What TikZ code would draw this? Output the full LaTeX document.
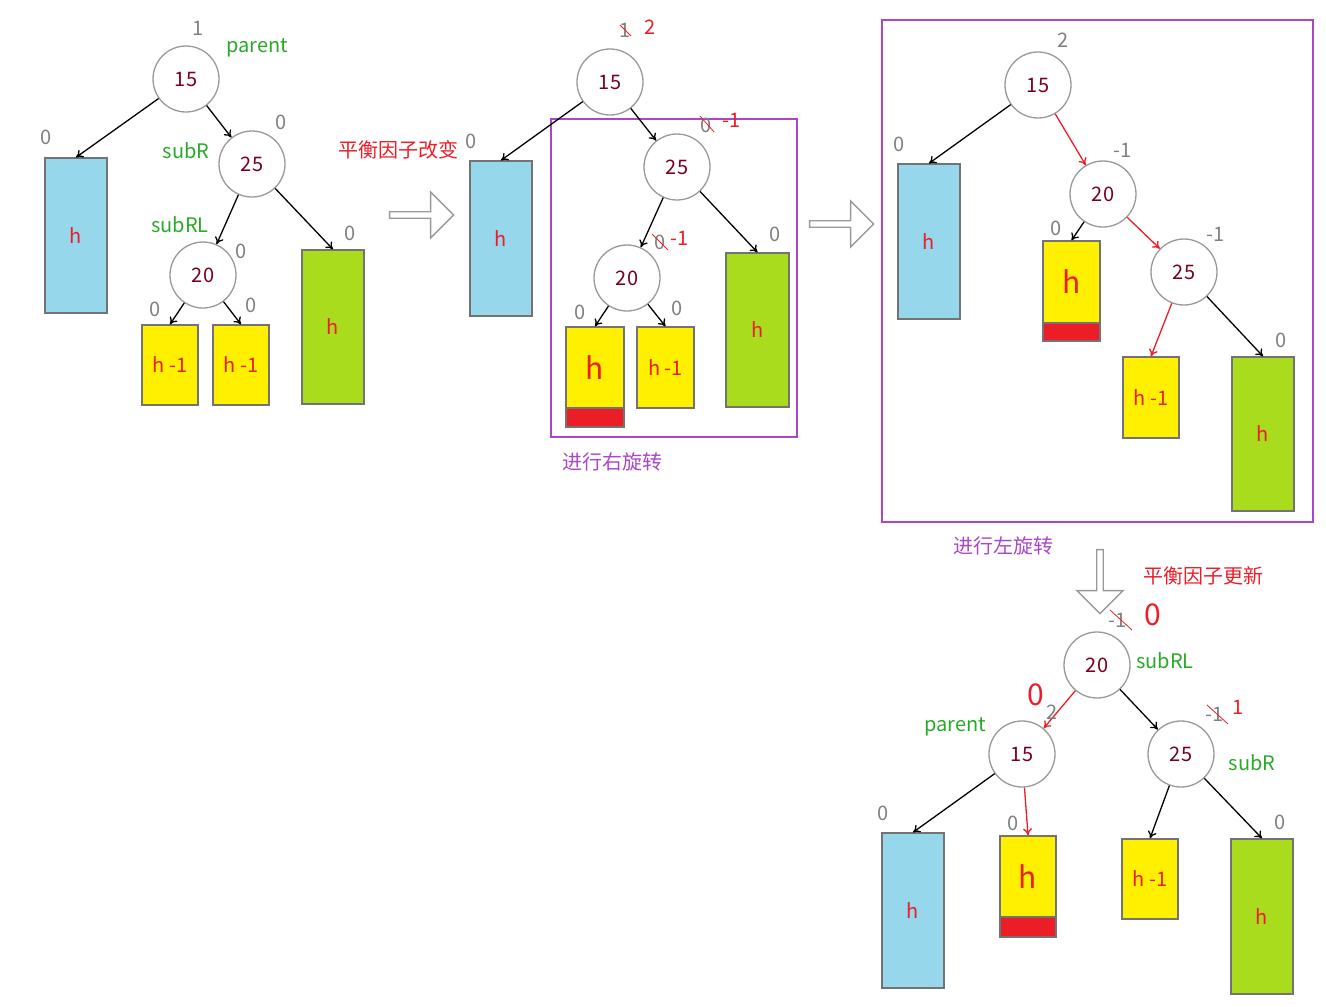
\documentclass[tikz,border=0pt]{standalone}
\usepackage{fontspec}
\setmainfont{Noto Sans CJK SC}
\usetikzlibrary{arrows.meta,shapes.arrows}
\definecolor{nodeT}{RGB}{120,0,30}
\definecolor{gr}{RGB}{40,170,40}
\definecolor{pur}{RGB}{170,70,200}
\definecolor{bl}{RGB}{150,215,235}
\definecolor{ye}{RGB}{255,240,0}
\definecolor{lg}{RGB}{170,220,30}
\definecolor{rd}{RGB}{235,30,40}
\tikzset{
 x=1pt,y=-1pt,
 nd/.style={circle,draw=gray!80,line width=1.3pt,fill=white,minimum size=66pt,inner sep=0,text=nodeT,font=\fontsize{20}{20}\selectfont},
 rect/.style={draw=gray!90!black,line width=1.3pt,inner sep=0,text=rd,font=\fontsize{20}{20}\selectfont},
 ar/.style={-{To[length=7pt,width=9pt]},line width=1.3pt,black},
 ra/.style={-{To[length=7pt,width=9pt]},line width=1.3pt,rd},
 zs/.style={text=gray,font=\fontsize{20}{20}\selectfont},
 gs/.style={text=gr,font=\fontsize{20}{20}\selectfont},
 rs/.style={text=rd,font=\fontsize{20}{20}\selectfont},
 ps/.style={text=pur,font=\fontsize{20}{20}\selectfont},
 hol/.style={single arrow,draw=gray!80,line width=1.3pt,fill=white,minimum height=64pt,minimum width=46pt,single arrow head extend=4pt,inner sep=0},
 hw/.style={text=rd,font=\fontsize{30}{30}\selectfont},
}
\newcommand{\rbox}[6]{\node[rect,fill=#5,minimum width=#3-#1,minimum height=#4-#2] (#6) at ({(#1+#3)/2},{(#2+#4)/2}) {};}
\begin{document}
\begin{tikzpicture}
\useasboundingbox (0,0) rectangle (1326,1007);
% ---- tree 1
\rbox{45}{158}{107}{313}{bl}{a1}\node[rs] at (a1) {h};
\rbox{302}{250}{364}{404}{lg}{b1}\node[rs] at (b1) {h};
\rbox{142}{325}{198}{405}{ye}{c1}\node[rs] at (c1) {h -1};
\rbox{213}{325}{269}{405}{ye}{d1}\node[rs] at (d1) {h -1};
\node[nd] (p1) at (186,79) {15};
\node[nd] (s1) at (252,164) {25};
\node[nd] (l1) at (203,275) {20};
\draw[ar] (p1) -- (a1.north);
\draw[ar] (p1) -- (s1);
\draw[ar] (s1) -- (l1);
\draw[ar] (s1) -- (b1.north);
\draw[ar] (l1) -- (c1.north);
\draw[ar] (l1) -- (d1.north);
\node[zs] at (198,28) {1}; \node[gs] at (257,48) {parent};
\node[zs] at (46,137) {0}; \node[gs] at (186,151) {subR}; \node[zs] at (281,122) {0};
\node[gs] at (180,225) {subRL}; \node[zs] at (241,251) {0}; \node[zs] at (350,233) {0};
\node[zs] at (155,309) {0}; \node[zs] at (251,305) {0};
\node[rs] at (398,150) {平衡因子改变}; \node[zs] at (471,141) {0};
\node[hol] at (420,215) {};
% ---- tree 2
\draw[pur,line width=1.3pt] (551,119) rectangle (797,437);
\rbox{470}{161}{532}{316}{bl}{a2}\node[rs] at (a2) {h};
\rbox{726}{253}{789}{407}{lg}{b2}\node[rs] at (b2) {h};
\rbox{566}{408}{624}{427}{rd}{e2}
\rbox{566}{327}{624}{408}{ye}{c2}\node[hw] at (c2) {h};
\rbox{637}{327}{694}{408}{ye}{d2}\node[rs] at (d2) {h -1};
\node[nd] (p2) at (610,82) {15};
\node[nd] (s2) at (677,167) {25};
\node[nd] (l2) at (627,278) {20};
\draw[ar] (p2) -- (a2.north);
\draw[ar] (p2) -- (s2);
\draw[ar] (s2) -- (l2);
\draw[ar] (s2) -- (b2.north);
\draw[ar] (l2) -- (c2.north);
\draw[ar] (l2) -- (d2.north);
\node[zs] at (625,30) {1}; \draw[rd,thick] (620,25) -- (631,36); \node[rs] at (650,27) {2};
\node[zs] at (706,125) {0}; \draw[rd,thick] (700,116) -- (714,132); \node[rs] at (732,120) {-1};
\node[zs] at (660,242) {0}; \draw[rd,thick] (652,234) -- (668,250); \node[rs] at (680,238) {-1};
\node[zs] at (775,234) {0}; \node[zs] at (580,312) {0}; \node[zs] at (677,308) {0};
\node[ps] at (612,462) {进行右旋转};
\node[hol] at (840,224) {};
% ---- tree 3
\draw[pur,line width=1.3pt] (882,20) rectangle (1313,522);
\rbox{898}{164}{960}{319}{bl}{a3}\node[rs] at (a3) {h};
\rbox{1043}{323}{1100}{341}{rd}{e3}
\rbox{1043}{241}{1100}{323}{ye}{c3}\node[hw] at (c3) {h};
\rbox{1123}{357}{1179}{438}{ye}{d3}\node[rs] at (d3) {h -1};
\rbox{1232}{357}{1294}{511}{lg}{b3}\node[rs] at (b3) {h};
\node[nd] (p3) at (1038,85) {15};
\node[nd] (l3) at (1103,194) {20};
\node[nd] (s3) at (1184,272) {25};
\draw[ar] (p3) -- (a3.north);
\draw[ra] (p3) -- (l3);
\draw[ar] (l3) -- (c3.north);
\draw[ra] (l3) -- (s3);
\draw[ra] (s3) -- (d3.north);
\draw[ar] (s3) -- (b3.north);
\node[zs] at (1063,40) {2}; \node[zs] at (899,144) {0}; \node[zs] at (1123,150) {-1};
\node[zs] at (1056,228) {0}; \node[zs] at (1216,234) {-1}; \node[zs] at (1281,340) {0};
\node[ps] at (1003,546) {进行左旋转};
\node[hol,rotate=-90] at (1100,580) {};
\node[rs] at (1203,576) {平衡因子更新};
% ---- tree 4
\rbox{882}{833}{944}{988}{bl}{a4}\node[rs] at (a4) {h};
\rbox{1000}{917}{1056}{937}{rd}{e4}
\rbox{1000}{836}{1056}{917}{ye}{c4}\node[hw] at (c4) {h};
\rbox{1122}{839}{1178}{919}{ye}{d4}\node[rs] at (d4) {h -1};
\rbox{1231}{839}{1293}{994}{lg}{b4}\node[rs] at (b4) {h};
\node[nd] (l4) at (1097,665) {20};
\node[nd] (p4) at (1022,754) {15};
\node[nd] (s4) at (1181,754) {25};
\draw[ra] (l4) -- (p4);
\draw[ar] (l4) -- (s4);
\draw[ar] (p4) -- (a4.north);
\draw[ra] (p4) -- (c4.north);
\draw[ar] (s4) -- (d4.north);
\draw[ar] (s4) -- (b4.north);
\node[zs] at (1118,620) {-1}; \draw[rd,thick] (1110,610) -- (1132,630); \node[hw] at (1153,615) {0};
\node[gs] at (1165,661) {subRL};
\node[gs] at (955,727) {parent}; \node[zs] at (1052,712) {2}; \node[hw] at (1036,695) {0};
\node[gs] at (1252,763) {subR};
\node[zs] at (1215,714) {-1}; \draw[rd,thick] (1207,705) -- (1228,724); \node[rs] at (1238,707) {1};
\node[zs] at (883,813) {0}; \node[zs] at (1013,823) {0}; \node[zs] at (1280,822) {0};
\end{tikzpicture}
\end{document}
